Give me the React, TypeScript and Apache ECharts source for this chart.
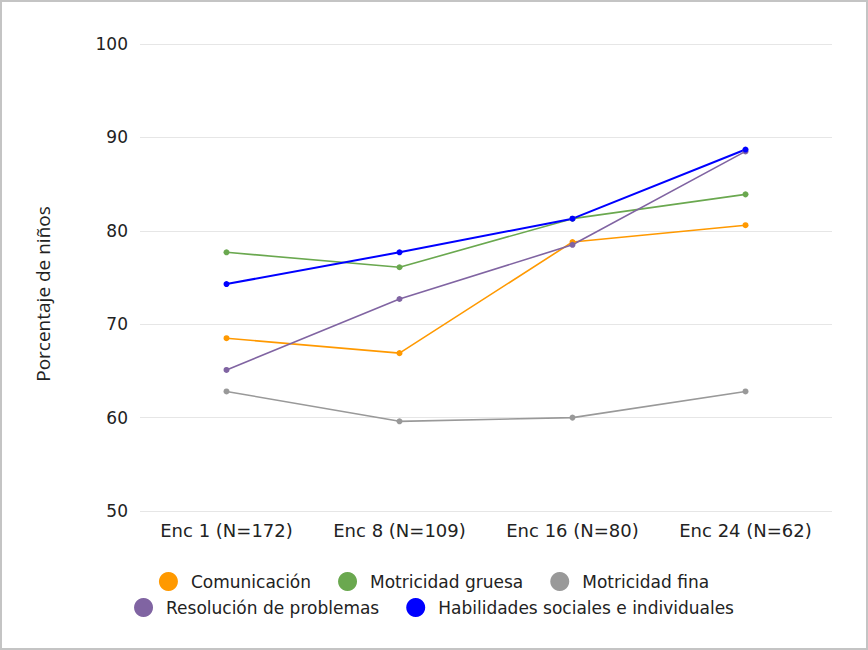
import React, { useEffect, useRef } from "react";
import * as echarts from "echarts";

const categories = ["Enc 1 (N=172)", "Enc 8 (N=109)", "Enc 16 (N=80)", "Enc 24 (N=62)"];
const comunicacion = [68.5, 66.9, 78.8, 80.6];
const motricidadGruesa = [77.7, 76.1, 81.3, 83.9];
const motricidadFina = [62.8, 59.6, 60.0, 62.8];
const resolucion = [65.1, 72.7, 78.5, 88.5];
const habilidades = [74.3, 77.7, 81.3, 88.7];
const yTicks = [50, 60, 70, 80, 90, 100];
const yAxisTitle = "Porcentaje de niños";

const seriesDefs = [
  { name: "Comunicación", data: comunicacion, color: "#FF9900", width: 1.6 },
  { name: "Motricidad gruesa", data: motricidadGruesa, color: "#6AA84F", width: 1.6 },
  { name: "Motricidad fina", data: motricidadFina, color: "#999999", width: 1.6 },
  { name: "Resolución de problemas", data: resolucion, color: "#8064A2", width: 1.6 },
  { name: "Habilidades sociales e individuales", data: habilidades, color: "#0000FF", width: 2 },
];

export default function App() {
  const ref = useRef<HTMLDivElement>(null);
  useEffect(() => {
    document.body.style.margin = "0";
    const chart = echarts.init(ref.current!, null, { renderer: "svg" });
    const legendCommon = {
      left: "center",
      icon: "circle",
      itemWidth: 19,
      itemHeight: 19,
      itemGap: 27,
      textStyle: { fontFamily: "DejaVu Sans", fontSize: 17, color: "#222", padding: [0, 0, 0, 8] },
    };
    chart.setOption({
      animation: false,
      backgroundColor: "#ffffff",
      grid: { left: 140, right: 36, top: 44, bottom: 139 },
      legend: [
        { ...legendCommon, top: 567, data: seriesDefs.slice(0, 3).map((s) => s.name) },
        { ...legendCommon, top: 593, data: seriesDefs.slice(3).map((s) => s.name) },
      ],
      graphic: [
        {
          type: "text",
          x: 43,
          y: 294,
          rotation: Math.PI / 2,
          style: {
            text: yAxisTitle,
            fontFamily: "Open Sans",
            fontSize: 19,
            fill: "#222",
            textAlign: "center",
            textVerticalAlign: "middle",
          },
        },
      ],
      xAxis: {
        type: "category",
        data: categories,
        boundaryGap: true,
        axisLine: { show: false },
        axisTick: { show: false },
        axisLabel: { fontFamily: "DejaVu Sans", fontSize: 18, color: "#222", margin: 10 },
      },
      yAxis: {
        type: "value",
        min: yTicks[0],
        max: yTicks[yTicks.length - 1],
        interval: 10,
        axisLabel: { fontFamily: "DejaVu Sans", fontSize: 17, color: "#222", margin: 12 },
        splitLine: { lineStyle: { color: "#e6e6e6", width: 1 } },
        axisLine: { show: false },
        axisTick: { show: false },
      },
      series: seriesDefs.map((s) => ({
        name: s.name,
        type: "line",
        data: s.data,
        color: s.color,
        symbol: "circle",
        symbolSize: 6,
        lineStyle: { width: s.width, color: s.color },
        itemStyle: { color: s.color },
      })),
    });
    return () => chart.dispose();
  }, []);
  return (
    <div
      style={{
        width: 868,
        height: 650,
        boxSizing: "border-box",
        border: "2px solid #c4c4c4",
        position: "relative",
        overflow: "hidden",
      }}
    >
      <div ref={ref} style={{ position: "absolute", left: -2, top: -2, width: 868, height: 650 }} />
    </div>
  );
}
